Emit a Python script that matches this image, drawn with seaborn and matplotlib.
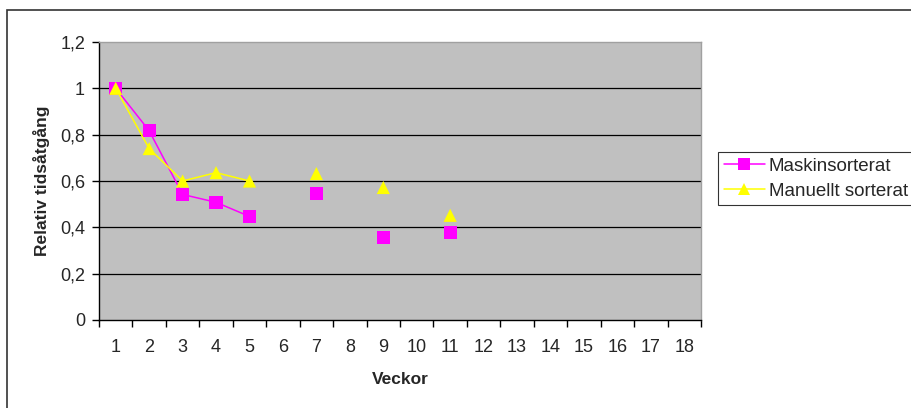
import matplotlib
matplotlib.use("Agg")
import matplotlib.pyplot as plt
import seaborn as sns
import numpy as np
import pandas as pd
from matplotlib.lines import Line2D
from matplotlib.patches import Rectangle

# ---- data ----
categories = [str(i) for i in range(1, 19)]
weeks = [1, 2, 3, 4, 5, 7, 9, 11]
segments = [0, 0, 0, 0, 0, 1, 2, 3]
maskin = [1.0, 0.817, 0.542, 0.508, 0.447, 0.546, 0.357, 0.378]
manuellt = [1.0, 0.74, 0.60, 0.636, 0.60, 0.632, 0.572, 0.452]
y_ticks = [0, 0.2, 0.4, 0.6, 0.8, 1.0, 1.2]
y_ticklabels = ["0", "0,2", "0,4", "0,6", "0,8", "1", "1,2"]
series_names = ["Maskinsorterat", "Manuellt sorterat"]

sns.set_theme(style="white")
plt.rcParams['font.family'] = ['Liberation Sans', 'DejaVu Sans']

df = pd.DataFrame({
    "Vecka": weeks * 2,
    "Värde": maskin + manuellt,
    "Serie": [series_names[0]] * len(weeks) + [series_names[1]] * len(weeks),
    "seg": segments * 2,
})

colors = {series_names[0]: "#FF00FF", series_names[1]: "#FFFF00"}
markers = {series_names[0]: "s", series_names[1]: "^"}

fig = plt.figure(figsize=(9.12, 4.08), dpi=100)
ax = fig.add_axes([99 / 912, 1 - 320 / 408, (701 - 99) / 912, (320 - 42) / 408])
ax.set_facecolor("#C0C0C0")

for name in series_names:
    sub = df[df["Serie"] == name]
    sns.lineplot(data=sub, x="Vecka", y="Värde", units="seg", estimator=None,
                 color=colors[name], linewidth=1.1, ax=ax, legend=False, zorder=3)
for name in series_names:
    sub = df[df["Serie"] == name]
    sns.scatterplot(data=sub, x="Vecka", y="Värde", color=colors[name],
                    marker=markers[name], s=90, edgecolor="none", linewidth=0,
                    ax=ax, legend=False, zorder=4)

ax.set_xlim(0.5, 18.5)
ax.set_ylim(0, 1.2)
for yv in y_ticks[1:-1]:
    ax.axhline(yv, color="black", linewidth=0.9, zorder=1)

ax.set_yticks(y_ticks)
ax.set_yticklabels(y_ticklabels, fontsize=13)
ax.set_xticks(np.arange(0.5, 19, 1.0))
ax.set_xticklabels([])
ax.set_xticks(np.arange(1, 19), minor=True)
ax.set_xticklabels(categories, minor=True, fontsize=13)
ax.tick_params(axis="x", which="major", direction="out", length=5, width=1, color="black", bottom=True)
ax.tick_params(axis="x", which="minor", length=0, pad=14)
ax.tick_params(axis="y", direction="out", length=5, width=1, color="black", left=True, pad=5)

for side in ["top", "right"]:
    ax.spines[side].set_color("#A0A0A0")
    ax.spines[side].set_linewidth(1)
for side in ["left", "bottom"]:
    ax.spines[side].set_color("black")
    ax.spines[side].set_linewidth(1)

ax.set_xlabel("Veckor", fontsize=12.5, fontweight="bold", labelpad=11)
ax.set_ylabel("Relativ tidsåtgång", fontsize=12.5, fontweight="bold", labelpad=7)

handles = [Line2D([0], [0], color=colors[n], marker=markers[n], markersize=9,
                  markeredgewidth=0, linewidth=1.1) for n in series_names]
leg = fig.legend(handles, series_names, loc="upper left",
                 bbox_to_anchor=(718 / 912, 1 - 152 / 408), fontsize=13.5,
                 frameon=True, fancybox=False, handlelength=2.2,
                 handletextpad=0.2, borderpad=0.3, labelspacing=0.42,
                 borderaxespad=0)
leg.get_frame().set_edgecolor("black")
leg.get_frame().set_linewidth(0.8)

fig.patches.append(Rectangle((7 / 912, -0.2), 1.2, 0.2 + 1 - 10 / 408,
                             transform=fig.transFigure, fill=False,
                             edgecolor="#333333", linewidth=1.2, zorder=0))

fig.savefig("out.png", dpi=100)
